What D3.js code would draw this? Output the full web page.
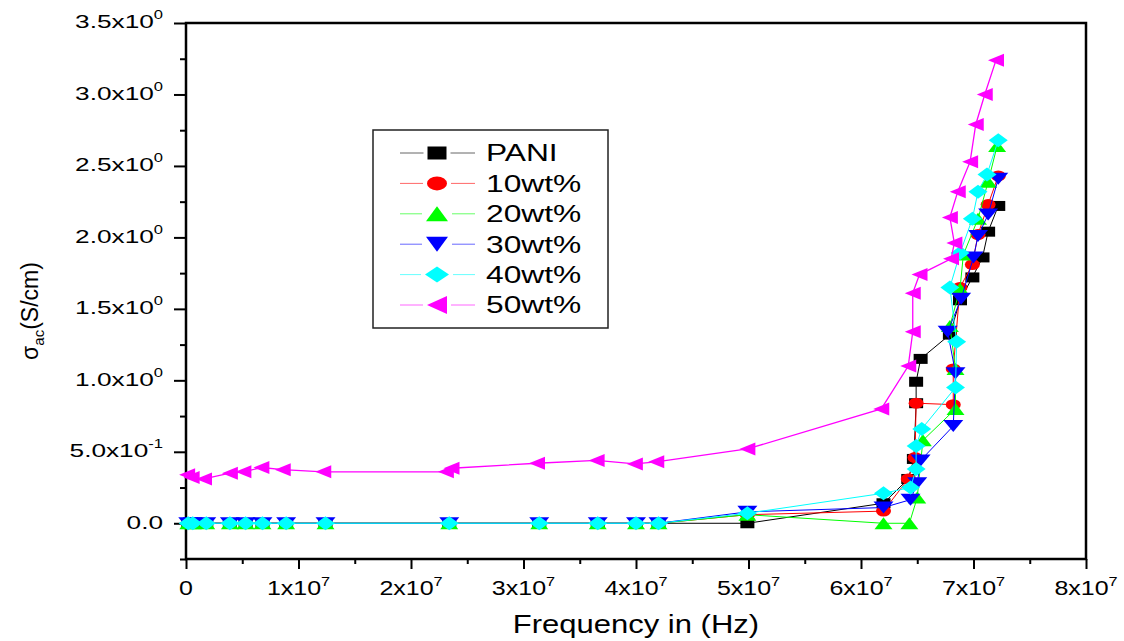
<!DOCTYPE html>
<html>
<head>
<meta charset="utf-8">
<script src="https://cdn.jsdelivr.net/npm/d3@7"></script>
<style>
  body { margin: 0; background: #fff; }
  svg { display: block; font-family: "Liberation Sans", Arial, sans-serif; }
</style>
</head>
<body>
<div id="chart"></div>
<script>
// Frequencies are in units of 1e7 Hz, conductivity in S/cm.
const freqLow = [0.02, 0.06, 0.18, 0.39, 0.53, 0.68, 0.89, 1.24, 2.34, 3.14, 3.66, 4.0, 4.2, 4.99];
const zeroLow = [0, 0, 0, 0, 0, 0, 0, 0, 0, 0, 0, 0, 0];

const freqPANI = freqLow.concat([6.2, 6.42, 6.47, 6.49, 6.49, 6.53, 6.79, 6.88, 6.99, 7.08, 7.13, 7.22]);
const sigmaPANI = zeroLow.concat([0.0, 0.14, 0.31, 0.45, 0.84, 0.99, 1.15, 1.32, 1.56, 1.72, 1.86, 2.04, 2.22]);

const freq10 = freqLow.concat([6.2, 6.42, 6.48, 6.49, 6.82, 6.82, 6.88, 6.99, 7.04, 7.13, 7.22]);
const sigma10 = zeroLow.concat([0.06, 0.085, 0.31, 0.46, 0.84, 0.83, 1.08, 1.65, 1.81, 2.02, 2.23, 2.43]);

const freq20 = freqLow.concat([6.2, 6.43, 6.5, 6.55, 6.84, 6.84, 6.79, 6.88, 6.91, 7.04, 7.13, 7.21]);
const sigma20 = zeroLow.concat([0.06, 0.0, 0.0, 0.18, 0.58, 0.8, 1.08, 1.38, 1.64, 1.88, 2.13, 2.39, 2.64]);

const freq30 = freqLow.concat([6.2, 6.44, 6.5, 6.53, 6.82, 6.84, 6.77, 6.89, 7.0, 7.04, 7.13, 7.22]);
const sigma30 = zeroLow.concat([0.08, 0.11, 0.165, 0.28, 0.44, 0.68, 1.05, 1.34, 1.57, 1.86, 2.01, 2.16, 2.41]);

const freq40 = freqLow.concat([6.2, 6.44, 6.49, 6.49, 6.54, 6.84, 6.85, 6.79, 6.88, 6.99, 7.04, 7.12, 7.22]);
const sigma40 = zeroLow.concat([0.07, 0.21, 0.25, 0.38, 0.54, 0.66, 0.95, 1.27, 1.65, 1.89, 2.13, 2.32, 2.44, 2.68]);

const freq50 = [0.01, 0.05, 0.16, 0.39, 0.51, 0.67, 0.86, 1.22, 2.31, 2.36, 3.12, 3.65, 3.99, 4.18, 4.99,
                6.18, 6.42, 6.46, 6.46, 6.52, 6.8, 6.83, 6.79, 6.86, 6.97, 7.02, 7.1, 7.2];
const sigma50 = [0.34, 0.32, 0.31, 0.35, 0.36, 0.39, 0.375, 0.36, 0.36, 0.385, 0.42, 0.44, 0.415, 0.43, 0.52,
                 0.80, 1.10, 1.34, 1.61, 1.74, 1.85, 1.96, 2.14, 2.32, 2.53, 2.79, 3.0, 3.24];

const seriesNames = ["PANI", "10wt%", "20wt%", "30wt%", "40wt%", "50wt%"];
const seriesFreqs = [freqPANI, freq10, freq20, freq30, freq40, freq50];
const seriesSigmas = [sigmaPANI, sigma10, sigma20, sigma30, sigma40, sigma50];
const seriesColors = ["#000000", "#ff0000", "#00ff00", "#0000ff", "#00ffff", "#ff00ff"];
const seriesShapes = ["square", "circle", "up", "down", "diamond", "left"];

const xTicks = [0, 1, 2, 3, 4, 5, 6, 7, 8];
const xMinor = [0.5, 1.5, 2.5, 3.5, 4.5, 5.5, 6.5, 7.5];
const yTicks = [0, 0.5, 1.0, 1.5, 2.0, 2.5, 3.0, 3.5];
const yMinor = [-0.25, 0.25, 0.75, 1.25, 1.75, 2.25, 2.75, 3.25];

// Canvas and plot frame.
const width = 1124, height = 641;
const plotLeft = 186, plotRight = 1086, plotTop = 23, plotBottom = 559;

const svg = d3.select("#chart").append("svg")
    .attr("width", width)
    .attr("height", height);

const x = d3.scaleLinear().domain([0, 8]).range([plotLeft, plotRight]);
const y = d3.scaleLinear().domain([-0.25, 3.5]).range([plotBottom, plotTop]);

// Marker outline centred on 0,0 with the given width and height.
function markerPath(shape, w, h) {
    const a = w / 2, b = h / 2;
    switch (shape) {
        case "square": return `M${-a},${-b}H${a}V${b}H${-a}Z`;
        case "circle": return `M${-a},0A${a},${b} 0 1 0 ${a},0A${a},${b} 0 1 0 ${-a},0Z`;
        case "up": return `M0,${-b}L${a},${b}L${-a},${b}Z`;
        case "down": return `M0,${b}L${a},${-b}L${-a},${-b}Z`;
        case "diamond": return `M0,${-b}L${a},0L0,${b}L${-a},0Z`;
        case "left": return `M${-a},0L${a},${-b}L${a},${b}Z`;
    }
}
const plotSize = {square: [14, 10], circle: [15, 11], up: [18, 12], down: [20, 12], diamond: [19, 14], left: [16, 13]};
const legendSize = {square: [19, 13], circle: [20, 14], up: [22, 15], down: [22, 15], diamond: [24, 16], left: [20, 18]};

// The original text is drawn wide: stretch it horizontally around its anchor.
function widen(sel, k) {
    sel.attr("transform", function() {
        const tx = +d3.select(this).attr("x") || 0;
        return `translate(${tx},0) scale(${k},1) translate(${-tx},0)`;
    });
}

// Axes.
svg.append("g")
    .attr("transform", `translate(0,${plotBottom})`)
    .call(d3.axisBottom(x).tickValues(xTicks).tickSize(10).tickSizeOuter(0).tickFormat(""))
    .call(g => g.selectAll("line").attr("stroke-width", 2));
svg.append("g")
    .attr("transform", `translate(0,${plotBottom})`)
    .call(d3.axisBottom(x).tickValues(xMinor).tickSize(5).tickSizeOuter(0).tickFormat(""))
    .call(g => g.select(".domain").remove())
    .call(g => g.selectAll("line").attr("stroke-width", 2));
svg.append("g")
    .attr("transform", `translate(${plotLeft},0)`)
    .call(d3.axisLeft(y).tickValues(yTicks).tickSize(12).tickSizeOuter(0).tickFormat(""))
    .call(g => g.selectAll("line").attr("stroke-width", 2));
svg.append("g")
    .attr("transform", `translate(${plotLeft},0)`)
    .call(d3.axisLeft(y).tickValues(yMinor).tickSize(6).tickSizeOuter(0).tickFormat(""))
    .call(g => g.select(".domain").remove())
    .call(g => g.selectAll("line").attr("stroke-width", 2));

svg.append("rect")
    .attr("x", plotLeft).attr("y", plotTop)
    .attr("width", plotRight - plotLeft).attr("height", plotBottom - plotTop)
    .attr("fill", "none").attr("stroke", "#000").attr("stroke-width", 2.5);

// X tick labels.
const xLab = svg.append("g").selectAll("text")
    .data(xTicks)
    .join("text")
    .attr("x", d => x(d))
    .attr("y", 595)
    .attr("text-anchor", "middle")
    .attr("font-size", 20);
xLab.each(function(d) {
    const t = d3.select(this);
    if (d === 0) { t.text("0"); return; }
    t.append("tspan").text(`${d}x10`);
    t.append("tspan").attr("dy", -9).attr("font-size", 13).text("7");
});
widen(xLab, 1.25);

// Y tick labels.
const yLab = svg.append("g").selectAll("text")
    .data(yTicks)
    .join("text")
    .attr("x", 163)
    .attr("y", d => y(d) + 5.5)
    .attr("text-anchor", "end")
    .attr("font-size", 19);
yLab.each(function(d) {
    const t = d3.select(this);
    if (d === 0) { t.text("0.0"); return; }
    const base = d === 0.5 ? "5.0x10" : `${d.toFixed(1)}x10`;
    t.append("tspan").text(base);
    t.append("tspan").attr("dy", -9).attr("font-size", 12).text(d === 0.5 ? "-1" : "0");
});
widen(yLab, 1.38);

// Axis titles.
const xTitle = svg.append("text")
    .attr("x", 636).attr("y", 633)
    .attr("text-anchor", "middle")
    .attr("font-size", 25)
    .text("Frequency in (Hz)");
widen(xTitle, 1.24);

const yTitle = svg.append("text")
    .attr("transform", "translate(38,311) rotate(-90)")
    .attr("text-anchor", "middle")
    .attr("font-size", 23);
yTitle.append("tspan").text("σ");
yTitle.append("tspan").attr("font-size", 15).attr("dy", 6).text("ac");
yTitle.append("tspan").attr("dy", -6).text("(S/cm)");

// Series: line first, then its markers.
const line = d3.line().x(d => x(d[0])).y(d => y(d[1]));
seriesNames.forEach((name, i) => {
    const pts = seriesFreqs[i].map((f, j) => [f, seriesSigmas[i][j]]);
    const g = svg.append("g");
    g.append("path")
        .datum(pts)
        .attr("d", line)
        .attr("fill", "none")
        .attr("stroke", seriesColors[i])
        .attr("stroke-width", i === 5 ? 1.3 : 1);
    const [w, h] = plotSize[seriesShapes[i]];
    g.selectAll("path.mk")
        .data(pts)
        .join("path")
        .attr("class", "mk")
        .attr("d", markerPath(seriesShapes[i], w, h))
        .attr("transform", d => `translate(${x(d[0])},${y(d[1])})`)
        .attr("fill", seriesColors[i]);
});

// Legend.
const legend = svg.append("g");
legend.append("rect")
    .attr("x", 373).attr("y", 130)
    .attr("width", 235).attr("height", 198)
    .attr("fill", "#fff").attr("stroke", "#222").attr("stroke-width", 1.5);
seriesNames.forEach((name, i) => {
    const cy = 153 + i * 30.4;
    const [w, h] = legendSize[seriesShapes[i]];
    [[400, 437 - w / 2 - 4], [437 + w / 2 + 4, 475]].forEach(([x1, x2]) => {
        legend.append("line")
            .attr("x1", x1).attr("x2", x2)
            .attr("y1", cy).attr("y2", cy)
            .attr("stroke", seriesColors[i])
            .attr("stroke-opacity", 0.6);
    });
    legend.append("path")
        .attr("d", markerPath(seriesShapes[i], w, h))
        .attr("transform", `translate(437,${cy})`)
        .attr("fill", seriesColors[i]);
    const t = legend.append("text")
        .attr("x", 486).attr("y", cy + 8.5)
        .attr("font-size", 23)
        .text(name);
    widen(t, 1.38);
});
</script>
</body>
</html>
